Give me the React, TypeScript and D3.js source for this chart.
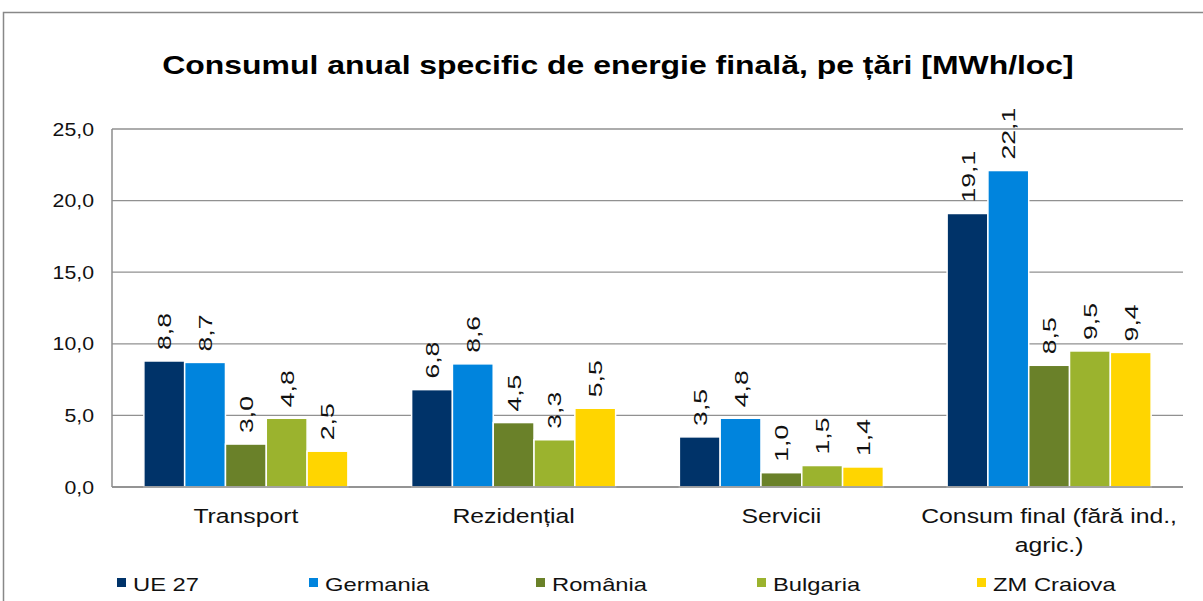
import React, { useEffect, useRef } from "react";
import * as d3 from "d3";

const categories = ["Transport", "Rezidențial", "Servicii", "Consum final (fără ind., agric.)"];
const categoryLines = [["Transport"], ["Rezidențial"], ["Servicii"], ["Consum final (fără ind.,", "agric.)"]];
const seriesNames = ["UE 27", "Germania", "România", "Bulgaria", "ZM Craiova"];
const ue27 = [8.8, 6.8, 3.5, 19.1];
const germania = [8.7, 8.6, 4.8, 22.1];
const romania = [3.0, 4.5, 1.0, 8.5];
const bulgaria = [4.8, 3.3, 1.5, 9.5];
const zmCraiova = [2.5, 5.5, 1.4, 9.4];
const yTicks = [0, 5, 10, 15, 20, 25];
const colors = ["#003369", "#0084DD", "#6A8129", "#9BB32E", "#FFD500"];

const seriesValues = [ue27, germania, romania, bulgaria, zmCraiova];

const W = 1203;
const H = 601;
const FONT = "'Liberation Sans', Arial, sans-serif";

export default function App() {
  const ref = useRef<SVGSVGElement>(null);

  useEffect(() => {
    const svg = d3.select(ref.current);
    svg.selectAll("*").remove();

    const left = 112, right = 1183, top = 129, bottom = 487;
    const fmt = (v: number) => v.toFixed(1).replace(".", ",");

    // outer frame (runs past the right and bottom edges)
    svg.append("rect")
      .attr("x", 3.5).attr("y", 12.5)
      .attr("width", W + 20).attr("height", H + 20)
      .attr("fill", "#fff").attr("stroke", "#888").attr("stroke-width", 1.5);

    const y = d3.scaleLinear().domain([0, 25]).range([bottom, top]);
    const x0 = d3.scaleBand<string>().domain(categories).range([left, right]).paddingInner(0.238).paddingOuter(0.119);
    const x1 = d3.scaleBand<string>().domain(seriesNames).range([0, x0.bandwidth()]);

    // title
    svg.append("text")
      .attr("transform", "translate(618,74) scale(1.2,1)")
      .attr("text-anchor", "middle")
      .style("font-family", FONT).style("font-weight", "bold").style("font-size", "26.6px")
      .text("Consumul anual specific de energie finală, pe țări [MWh/loc]");

    // gridlines
    svg.selectAll("line.grid")
      .data(yTicks)
      .enter()
      .append("line")
      .attr("x1", left).attr("x2", right)
      .attr("y1", d => y(d)).attr("y2", d => y(d))
      .attr("stroke", "#919191").attr("stroke-width", 1.3);

    // y labels
    svg.selectAll("text.ytick")
      .data(yTicks)
      .enter()
      .append("text")
      .attr("transform", d => `translate(94,${y(d) + 6.5}) scale(1.15,1)`)
      .attr("text-anchor", "end")
      .style("font-family", FONT).style("font-size", "18.5px").attr("fill", "#111")
      .text(d => fmt(d));

    // bars
    seriesNames.forEach((name, si) => {
      const g = svg.append("g");
      g.selectAll("rect")
        .data(seriesValues[si])
        .enter()
        .append("rect")
        .attr("x", (d, i) => (x0(categories[i]) as number) + (x1(name) as number))
        .attr("y", d => y(d))
        .attr("width", x1.bandwidth())
        .attr("height", d => bottom - y(d))
        .attr("fill", colors[si])
        .attr("stroke", "#fff").attr("stroke-width", 1.5);

      g.selectAll("text")
        .data(seriesValues[si])
        .enter()
        .append("text")
        .attr("transform", (d, i) => {
          const cx = (x0(categories[i]) as number) + (x1(name) as number) + x1.bandwidth() / 2;
          return `translate(${cx + 7},${y(d) - 11}) rotate(-90) scale(1.4,1)`;
        })
        .style("font-family", FONT).style("font-size", "19px").attr("fill", "#111")
        .text(d => fmt(d));
    });

    // axes lines
    svg.append("line").attr("x1", left).attr("x2", left).attr("y1", top).attr("y2", bottom)
      .attr("stroke", "#8c8c8c").attr("stroke-width", 1.5);
    svg.append("line").attr("x1", left).attr("x2", right).attr("y1", bottom).attr("y2", bottom)
      .attr("stroke", "#8c8c8c").attr("stroke-width", 1.5);

    // category labels
    categories.forEach((c, i) => {
      const cx = (x0(c) as number) + x0.bandwidth() / 2;
      categoryLines[i].forEach((line, li) => {
        svg.append("text")
          .attr("transform", `translate(${cx},${523 + li * 29}) scale(1.27,1)`)
          .attr("text-anchor", "middle")
          .style("font-family", FONT).style("font-size", "19.5px").attr("fill", "#111")
          .text(line);
      });
    });

    // legend
    const legendX = [117, 309, 536, 757, 977];
    seriesNames.forEach((name, si) => {
      svg.append("rect")
        .attr("x", legendX[si]).attr("y", 578)
        .attr("width", 9).attr("height", 9)
        .attr("fill", colors[si]);
      svg.append("text")
        .attr("transform", `translate(${legendX[si] + 16},591) scale(1.25,1)`)
        .style("font-family", FONT).style("font-size", "19px").attr("fill", "#111")
        .text(name);
    });
  }, []);

  return <svg ref={ref} width={W} height={H} style={{ position: "absolute", left: 0, top: 0 }} />;
}
